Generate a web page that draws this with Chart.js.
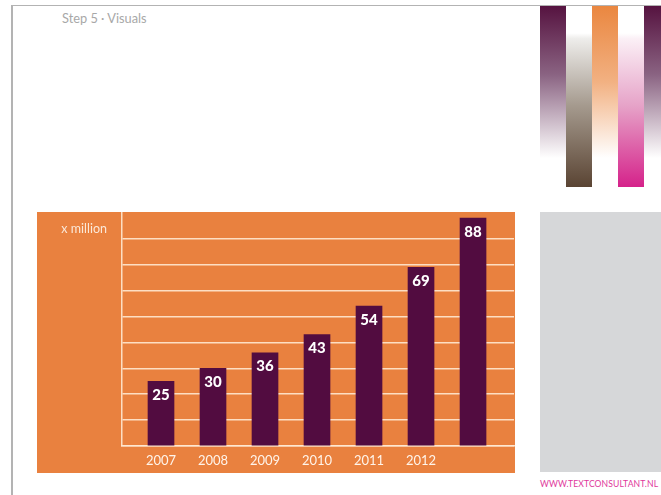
<!DOCTYPE html>
<html>
<head>
<meta charset="utf-8">
<script src="https://cdn.jsdelivr.net/npm/chart.js@4.4.0/dist/chart.umd.min.js"></script>
<style>
  html, body { margin: 0; padding: 0; background: #fff; }
  body { width: 661px; height: 495px; position: relative; overflow: hidden; font-family: Lato, "Open Sans", sans-serif; }
  .topline { position: absolute; left: 11px; top: 5px; width: 650px; height: 1px; background: #b3b3b3; z-index: 2; }
  .leftline { position: absolute; left: 11px; top: 5px; width: 2px; height: 490px; background: #b3b3b3; }
  .step { position: absolute; left: 62px; top: 10px; font-size: 12.8px; color: #a8a8a8; }
  .stripe { position: absolute; top: 6px; width: 26px; }
  .s1 { left: 540px; height: 152px; background: linear-gradient(#561340, #8a6382 45%, #fff); }
  .s2 { left: 566px; height: 181px; background: linear-gradient(#fff 15%, #eeedeb 18%, #a59a8e 55%, #5a4433); }
  .s3 { left: 592px; height: 152px; background: linear-gradient(#ea8740, #f2b182 50%, #fff); }
  .s4 { left: 618px; height: 181px; background: linear-gradient(#fff 15%, #fbf0f6 18%, #e6a3c8 55%, #d5228a); }
  .s5 { left: 644px; width: 17px; height: 152px; background: linear-gradient(#561340, #8a6382 45%, #fff); }
  .panel { position: absolute; left: 37px; top: 212px; width: 478px; height: 261px; background: #e9813f; }
  .unit { position: absolute; left: 37px; top: 221px; width: 70px; text-align: right; font-size: 12.5px; color: #fbe8d8; }
  .graybox { position: absolute; left: 540px; top: 212px; width: 121px; height: 260px; background: #d6d7d9; }
  .url { position: absolute; left: 540px; top: 479px; font-size: 8.6px; color: #e0389b; letter-spacing: 0.1px; }
</style>
</head>
<body>
<div class="topline"></div>
<div class="leftline"></div>
<div class="step">Step 5 · Visuals</div>
<div class="stripe s1"></div>
<div class="stripe s2"></div>
<div class="stripe s3"></div>
<div class="stripe s4"></div>
<div class="stripe s5"></div>
<div class="panel"><canvas id="chart" width="478" height="261"></canvas></div>
<div class="unit">x million</div>
<div class="graybox"></div>
<div class="url">WWW.TEXTCONSULTANT.NL</div>

<script>
// values (x million)
const yearLabels = ['2007', '2008', '2009', '2010', '2011', '2012', ''];
const values = [25, 30, 36, 43, 54, 69, 88];
const yTicks = [0, 10, 20, 30, 40, 50, 60, 70, 80, 90];

const cream = 'rgba(255, 232, 210, 0.9)';
const barColor = '#520c40';

// white numbers inside top of each bar
const valueLabels = {
    id: 'valueLabels',
    afterDatasetsDraw: (chart) => {
        const ctx = chart.ctx;
        const meta = chart.getDatasetMeta(0);
        ctx.save();
        ctx.fillStyle = '#ffffff';
        ctx.font = '900 15px Lato';
        ctx.textAlign = 'center';
        ctx.textBaseline = 'middle';
        meta.data.forEach((bar, i) => {
            ctx.fillText(values[i], bar.x, bar.y + 13.5);
        });
        ctx.restore();
    }
};

new Chart(document.getElementById('chart').getContext('2d'), {
    type: 'bar',
    plugins: [valueLabels],
    data: {
        datasets: [{
            data: values.map((v, i) => ({ x: i, y: v })),
            backgroundColor: barColor,
            barThickness: 26
        }]
    },
    options: {
        responsive: false,
        animation: false,
        layout: { padding: { left: 85, right: 1, top: 1, bottom: 0 } },
        plugins: { legend: { display: false }, tooltip: { enabled: false } },
        scales: {
            x: {
                type: 'linear',
                offset: false,
                min: -0.75,
                max: 6.788,
                grid: { display: false },
                border: { display: true, color: cream, width: 1.5 },
                afterBuildTicks: (axis) => {
                    axis.ticks = yearLabels.map((_, i) => ({ value: i }));
                },
                afterFit: (axis) => { axis.height = 27; },
                ticks: {
                    autoSkip: false,
                    maxRotation: 0,
                    padding: -1,
                    color: '#fff4ea',
                    font: { family: 'Lato', size: 13, weight: '400' },
                    callback: (value) => yearLabels[value]
                }
            },
            y: {
                min: 0,
                max: 90,
                afterBuildTicks: (axis) => {
                    axis.ticks = yTicks.map(v => ({ value: v }));
                },
                ticks: { display: false },
                grid: {
                    drawTicks: false,
                    lineWidth: 1.5,
                    color: (c) => (c.tick && c.tick.value === 90) ? 'rgba(0,0,0,0)' : cream
                },
                border: { display: true, color: cream, width: 1.5 }
            }
        }
    }
});
</script>
</body>
</html>
